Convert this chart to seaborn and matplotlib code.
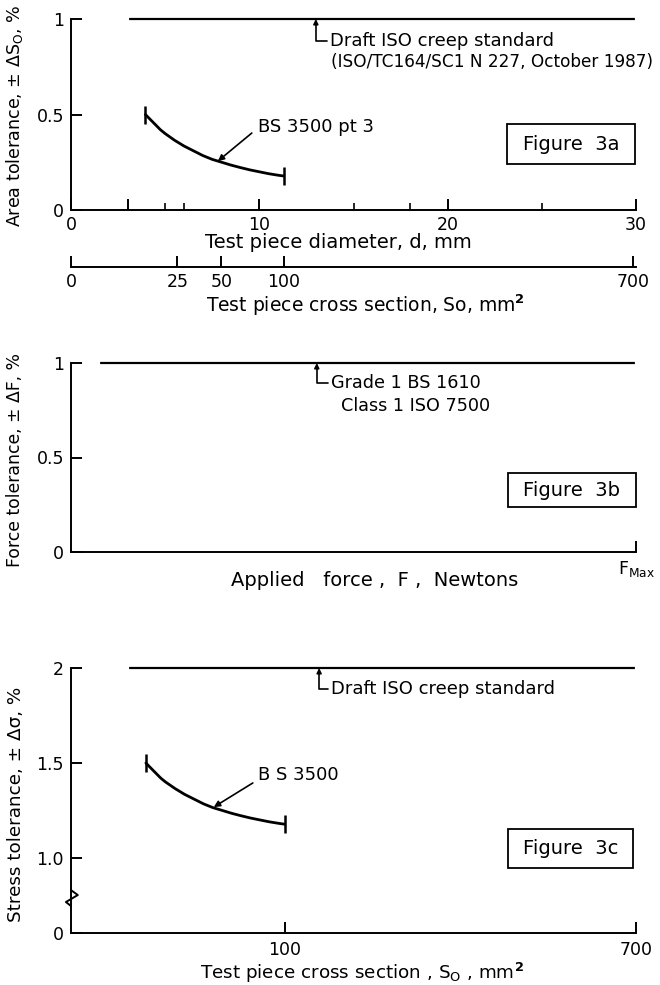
import numpy as np
import pandas as pd
import matplotlib
matplotlib.use("Agg")
import matplotlib.pyplot as plt
import seaborn as sns
from matplotlib.patches import Rectangle

# ---------------- data ----------------
diam_major = [0, 3, 10, 20, 30]
diam_major_labels = ["0", "", "10", "20", "30"]
diam_minor = [5, 6, 15, 18, 25]
area_ticks = [0, 25, 50, 100, 700]
area_labels = ["0", "25", "50", "100", "700"]

iso_a_d = [3, 30]
iso_a_tol = [1, 1]
bs_a_d = [3.95, 4.25, 4.5, 4.75, 5.0, 5.5, 6.0, 6.5, 7.0, 7.5, 8.0, 8.5,
          9.0, 9.5, 10.0, 10.5, 11.0, 11.3]
bs_a_tol = [0.50, 0.47, 0.445, 0.42, 0.40, 0.365, 0.335, 0.31, 0.285, 0.265,
            0.25, 0.235, 0.222, 0.21, 0.20, 0.19, 0.182, 0.178]

force_frac = [0.05, 1.0]
force_tol = [1, 1]

iso_c_area = [7, 700]
iso_c_tol = [2, 2]
bs_c_area = [12.3, 14.2, 15.9, 17.7, 19.6, 23.8, 28.3, 33.2, 38.5, 44.2,
             50.3, 56.7, 63.6, 70.9, 78.5, 86.6, 95.0, 100.0]
bs_c_tol = [1.50, 1.47, 1.445, 1.42, 1.40, 1.365, 1.335, 1.31, 1.285, 1.265,
            1.25, 1.235, 1.222, 1.21, 1.20, 1.19, 1.182, 1.178]

# ---------------- style ----------------
sns.set_theme(style="ticks")
plt.rcParams["font.family"] = ["DejaVu Sans"]
plt.rcParams["axes.linewidth"] = 1.4
TFS = 12.5   # tick labels
K = "black"
LW = 1.6

def d2a(d):
    d = np.asarray(d, dtype=float)
    return np.pi * d ** 2 / 4.0

def a2d(a):
    a = np.asarray(a, dtype=float)
    return np.sqrt(4.0 * np.maximum(a, 0) / np.pi)

KB = 75.0 / 190.0
def yfwd(y):
    y = np.asarray(y, dtype=float)
    return np.where(y >= 1, y, 1 - (1 - y) * KB)

def yinv(t):
    t = np.asarray(t, dtype=float)
    return np.where(t >= 1, t, 1 - (1 - t) / KB)

W, H = 660, 985
fig = plt.figure(figsize=(W / 100, H / 100), dpi=100)

def axes_px(x0, x1, ytop, ybot):
    return fig.add_axes([x0 / W, 1 - ybot / H, (x1 - x0) / W, (ybot - ytop) / H])

def style_axes(ax):
    sns.despine(ax=ax)
    ax.grid(False)
    ax.set_facecolor("white")
    for s in ("left", "bottom"):
        ax.spines[s].set_color(K)
        ax.spines[s].set_linewidth(1.4)
    ax.tick_params(direction="in", length=8, width=1.4, colors=K, labelsize=TFS)
    ax.tick_params(axis="x", which="minor", direction="in", length=5, width=1.4)

def fig_box(ax, x0, x1, y0, y1, label):
    ax.add_patch(Rectangle((x0, y0), x1 - x0, y1 - y0, transform=ax.transAxes,
                           fill=False, ec=K, lw=1.3, clip_on=False))
    ax.text((x0 + x1) / 2, (y0 + y1) / 2, label, transform=ax.transAxes,
            ha="center", va="center", fontsize=14, color=K)

def leader(ax, text, xy, xytext, fs):
    ax.annotate(text, xy=xy, xytext=xytext, ha="left", va="center",
                fontsize=fs, color=K,
                arrowprops=dict(arrowstyle="-|>", color=K, lw=1.2,
                                mutation_scale=7, relpos=(0, 0.5),
                                shrinkA=0, shrinkB=0,
                                connectionstyle="angle,angleA=180,angleB=90,rad=0"))

# ================= Figure 3a =================
ax1 = axes_px(71, 636, 19, 210)
style_axes(ax1)
df_iso_a = pd.DataFrame({"d": iso_a_d, "tol": iso_a_tol})
df_bs_a = pd.DataFrame({"d": bs_a_d, "tol": bs_a_tol})
sns.lineplot(data=df_iso_a, x="d", y="tol", ax=ax1, color=K, lw=LW,
             marker="|", markersize=12, markeredgewidth=1.6, clip_on=False)
sns.lineplot(data=df_bs_a, x="d", y="tol", ax=ax1, color=K, lw=2.0, clip_on=False)
ends = df_bs_a.iloc[[0, -1]]
sns.scatterplot(data=ends, x="d", y="tol", ax=ax1, marker="|", s=150,
                color=K, linewidths=1.8, clip_on=False)
ax1.set_xlim(0, 30)
ax1.set_ylim(0, 1)
ax1.set_xticks(diam_major)
ax1.set_xticklabels(diam_major_labels)
ax1.set_xticks(diam_minor, minor=True)
ax1.set_yticks([0, 0.5, 1])
ax1.set_yticklabels(["0", "0.5", "1"])
ax1.tick_params(axis="x", pad=4)
ax1.tick_params(axis="y", pad=5)
ax1.set_xlabel("")
ax1.set_ylabel("")

leader(ax1, "Draft ISO creep standard", (13, 1), (13.75, 0.885), 13)
ax1.text(13.8, 0.775, "(ISO/TC164/SC1 N 227, October 1987)", ha="left",
         va="center", fontsize=12.2, color=K)
ax1.text(9.95, 0.435, "BS 3500 pt 3", ha="left", va="center", fontsize=13, color=K)
ax1.annotate("", xy=(7.8, 0.256), xytext=(9.6, 0.403),
             arrowprops=dict(arrowstyle="-|>", color=K, lw=1.2, mutation_scale=9,
                             shrinkA=0, shrinkB=0))
fig_box(ax1, 0.772, 0.998, 0.241, 0.450, "Figure  3a")

sec = ax1.secondary_xaxis(-57 / 191, functions=(d2a, a2d))
sec.set_xticks(area_ticks)
sec.set_xticklabels(area_labels)
sec.spines["bottom"].set_linewidth(1.4)
sec.spines["bottom"].set_color(K)
sec.tick_params(direction="in", length=8, width=1.4, colors=K, labelsize=TFS, pad=4)
sec.set_xlabel("")

fig.text(338 / W, 1 - 243 / H, "Test piece diameter, d, mm", ha="center",
         va="center", fontsize=14, color=K)
fig.text(365 / W, 1 - 305 / H, "Test piece cross section, So, mm$^\\mathbf{2}$",
         ha="center", va="center", fontsize=13.5, color=K)
fig.text(15 / W, 1 - 116 / H, "Area tolerance, ± ΔS$_\\mathrm{O}$, %",
         rotation=90, ha="center", va="center", fontsize=12.6, color=K)

# ================= Figure 3b =================
ax2 = axes_px(71, 636, 363, 552)
style_axes(ax2)
df_force = pd.DataFrame({"F": force_frac, "tol": force_tol})
sns.lineplot(data=df_force, x="F", y="tol", ax=ax2, color=K, lw=LW,
             marker="|", markersize=12, markeredgewidth=1.6, clip_on=False)
ax2.set_xlim(0, 1)
ax2.set_ylim(0, 1)
ax2.set_xticks([1.0])
ax2.set_xticklabels(["F$_\\mathrm{Max}$"])
ax2.set_yticks([0, 0.5, 1])
ax2.set_yticklabels(["0", "0.5", "1"])
ax2.tick_params(axis="x", pad=5)
ax2.tick_params(axis="y", pad=5)
ax2.set_xlabel("")
ax2.set_ylabel("")
leader(ax2, "Grade 1 BS 1610", (0.435, 1), (0.46, 0.894), 12.7)
ax2.text(0.478, 0.775, "Class 1 ISO 7500", ha="left", va="center",
         fontsize=12.7, color=K)
fig_box(ax2, 0.773, 1.0, 0.238, 0.418, "Figure  3b")
fig.text(375 / W, 1 - 580 / H, "Applied   force ,  F ,  Newtons", ha="center",
         va="center", fontsize=14, color=K)
fig.text(15 / W, 1 - 460 / H, "Force tolerance, ± ΔF, %", rotation=90,
         ha="center", va="center", fontsize=12.4, color=K)

# ================= Figure 3c =================
ax3 = axes_px(71, 636, 668, 933)
style_axes(ax3)
ax3.set_xscale("function", functions=(a2d, d2a))
ax3.set_yscale("function", functions=(yfwd, yinv))
df_iso_c = pd.DataFrame({"A": iso_c_area, "tol": iso_c_tol})
df_bs_c = pd.DataFrame({"A": bs_c_area, "tol": bs_c_tol})
sns.lineplot(data=df_iso_c, x="A", y="tol", ax=ax3, color=K, lw=LW,
             marker="|", markersize=12, markeredgewidth=1.6, clip_on=False)
sns.lineplot(data=df_bs_c, x="A", y="tol", ax=ax3, color=K, lw=2.0, clip_on=False)
ends_c = df_bs_c.iloc[[0, -1]]
sns.scatterplot(data=ends_c, x="A", y="tol", ax=ax3, marker="|", s=150,
                color=K, linewidths=1.8, clip_on=False)
ax3.set_xlim(0, 700)
ax3.set_ylim(0, 2)
ax3.set_xticks([100, 700])
ax3.set_xticklabels(["100", "700"])
ax3.xaxis.set_minor_locator(matplotlib.ticker.NullLocator())
ax3.yaxis.set_minor_locator(matplotlib.ticker.NullLocator())
ax3.set_yticks([0, 1.0, 1.5, 2])
ax3.set_yticklabels(["0", "1.0", "1.5", "2"])
ax3.tick_params(axis="x", pad=6)
ax3.tick_params(axis="y", pad=5)
ax3.set_xlabel("")
ax3.set_ylabel("")
leader(ax3, "Draft ISO creep standard", (135, 2), (148, 1.889), 13)
ax3.text(76.6, 1.437, "B S 3500", ha="left", va="center", fontsize=13, color=K)
ax3.annotate("", xy=(44.7, 1.268), xytext=(72.5, 1.395),
             arrowprops=dict(arrowstyle="-|>", color=K, lw=1.2, mutation_scale=9,
                             shrinkA=0, shrinkB=0))
fig_box(ax3, 0.773, 0.995, 0.245, 0.392, "Figure  3c")
# axis break mark
ax3.plot([0, 0.012, -0.009, 0], [0.572, 0.506, 0.413, 0.36], color=K, lw=1.4,
         transform=ax3.get_yaxis_transform(), clip_on=False)
fig.text(362 / W, 1 - 973 / H,
         "Test piece cross section , S$_\\mathrm{O}$ , mm$^\\mathbf{2}$",
         ha="center", va="center", fontsize=13.2, color=K)
fig.text(16 / W, 1 - 804 / H, "Stress tolerance, ± Δσ, %", rotation=90,
         ha="center", va="center", fontsize=13.2, color=K)

fig.savefig("out.png", dpi=100, facecolor="white")
